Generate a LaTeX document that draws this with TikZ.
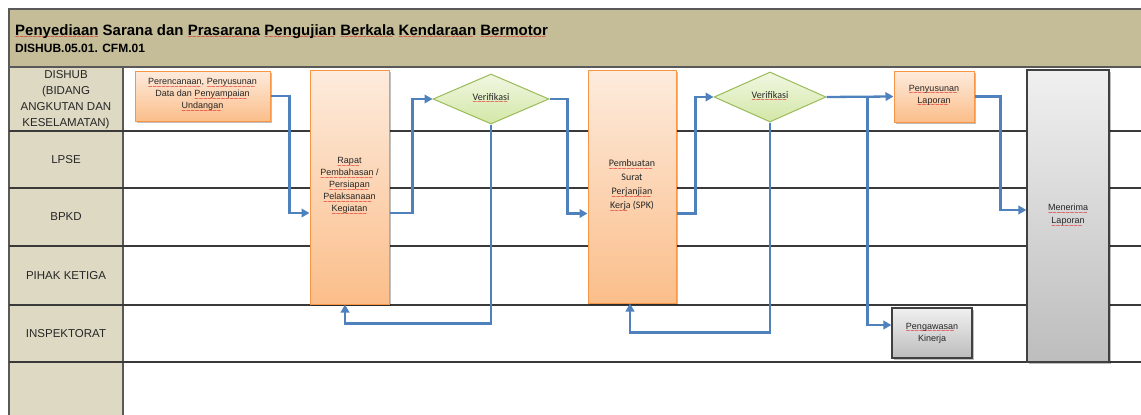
\documentclass[tikz,border=0pt]{standalone}
\usepackage{fontspec}
\setmainfont{Liberation Sans}
\newfontfamily\calib{Carlito}
\newfontfamily\wavefont{Liberation Sans}
\usetikzlibrary{shapes.geometric,arrows.meta,shadows}
\definecolor{hdrfill}{HTML}{C4BD97}
\definecolor{lanefill}{HTML}{DDD9C3}
\definecolor{frame}{HTML}{595959}
\definecolor{laneln}{HTML}{3A3A3A}
\definecolor{orangeb}{HTML}{F79646}
\definecolor{orangetop}{HTML}{FDEBDD}
\definecolor{orangebot}{HTML}{FBBE8A}
\definecolor{greenb}{HTML}{9BBB59}
\definecolor{greentop}{HTML}{F1F7E2}
\definecolor{greenbot}{HTML}{D3E7A6}
\definecolor{graytop}{HTML}{F0F0F0}
\definecolor{graybot}{HTML}{BDBDBD}
\definecolor{grayb}{HTML}{404040}
\definecolor{flowc}{HTML}{4F81BD}
\definecolor{textc}{HTML}{262626}
\definecolor{spell}{HTML}{E01010}
\newcommand\sq[1]{\setbox0\hbox{#1}\rlap{\textcolor{spell}{\leaders\hbox{\lower4.6pt\hbox{\wavefont\fontsize{7.5}{7.5}\selectfont\mdseries\char"7E}}\hskip\wd0\relax}}\box0\relax}
\begin{document}
\begin{tikzpicture}[x=1pt,y=-1pt,
  shadowed/.style={drop shadow={shadow xshift=1.5pt,shadow yshift=-1.5pt,opacity=0.25,fill=black}},
  obox/.style={shadowed,draw=orangeb,line width=1pt,top color=orangetop,bottom color=orangebot,
    align=center,inner sep=1pt,text=textc,font=\fontsize{9}{12}\selectfont},
  gbox/.style={shadowed,draw=grayb,line width=1.2pt,top color=graytop,bottom color=graybot,
    align=center,inner sep=1pt,text=textc,font=\fontsize{9}{12}\selectfont},
  dec/.style={diamond,aspect=2.3,draw=greenb,line width=1pt,top color=greentop,bottom color=greenbot,
    inner sep=0pt,minimum width=116pt,minimum height=50pt,text=textc,font=\fontsize{9}{11}\selectfont},
  lanelabel/.style={align=center,text=textc,font=\fontsize{11.5}{16}\selectfont,inner sep=0pt},
  flow/.style={draw=flowc,line width=2.3pt,-{Triangle[length=8pt,width=8.5pt]}}]
\useasboundingbox (0,0) rectangle (1141,415);
\fill[white] (0,0) rectangle (1141,415);
\begin{scope}
\clip (0,0) rectangle (1141,415);
% header
\draw[fill=hdrfill,draw=frame,line width=1.8pt] (9,9) rectangle (1160,67);
% lane label column
\draw[fill=lanefill,draw=frame,line width=1.4pt] (9,67) rectangle (123,430);
\foreach \yy in {131,188,246,305,362} \draw[laneln,line width=1.3pt] (9,\yy) -- (1150,\yy);
\end{scope}
\node[anchor=base west,inner sep=0pt,text=black,font=\fontsize{15}{18}\selectfont\bfseries] (title) at (15,35)
  {\sq{Penyediaan} Sarana dan \sq{Prasarana} \sq{Pengujian} \sq{Berkala} \sq{Kendaraan} \sq{Bermotor}};
\node[anchor=base west,inner sep=0pt,text=black,font=\fontsize{12}{14}\selectfont\bfseries] (code) at (15,52)
  {DISHUB.05.01. CFM.01};
% lane labels
\node[lanelabel] (l1) at (66,100) {DISHUB\\(BIDANG\\ANGKUTAN DAN\\KESELAMATAN)};
\node[lanelabel] (l2) at (66,160) {LPSE};
\node[lanelabel] (l3) at (66,217) {BPKD};
\node[lanelabel] (l4) at (66,276) {PIHAK KETIGA};
\node[lanelabel] (l5) at (66,334) {INSPEKTORAT};
% process nodes
\node[obox,minimum width=135pt,minimum height=50pt] (b1) at (202.5,96)
  {\sq{Perencanaan,} \sq{Penyusunan}\\Data dan \sq{Penyampaian}\\\sq{Undangan}};
\node[obox,minimum width=79pt,minimum height=234pt] (b2) at (349.5,187)
  {\sq{Rapat}\\\sq{Pembahasan} /\\\sq{Persiapan}\\\sq{Pelaksanaan}\\\sq{Kegiatan}};
\node[dec] (d1) at (491,99) {\calib\fontsize{10}{12}\selectfont\sq{Verifikasi}};
\node[obox,minimum width=88pt,minimum height=233pt,font=\calib\fontsize{10}{14}\selectfont] (b3) at (632,186.5)
  {\sq{Pembuatan}\\Surat\\\sq{Perjanjian}\\\sq{Kerja} (SPK)};
\node[dec,minimum width=112pt] (d2) at (770,97) {\calib\fontsize{10}{12}\selectfont\sq{Verifikasi}};
\node[obox,minimum width=80pt,minimum height=51pt] (b4) at (934,96.5) {\sq{Penyusunan}\\\sq{Laporan}};
\node[gbox,minimum width=82pt,minimum height=292pt,font=\fontsize{9}{13}\selectfont] (b5) at (1068,216) {\sq{Menerima}\\\sq{Laporan}};
\node[gbox,minimum width=80pt,minimum height=50pt,font=\fontsize{9}{11}\selectfont] (b6) at (932,333) {\sq{Pengawasan}\\Kinerja};
% connectors
\draw[flow] (b1.east) -- ++(19,0) |- ([yshift=-26pt]b2.west);
\draw[flow] ([yshift=-26pt]b2.east) -- ++(23,0) |- (d1.west);
\draw[flow] (d1.east) -- ++(18,0) |- ([yshift=-27pt]b3.west);
\draw[flow] (d1.south) -- ++(0,199) -| ([xshift=-4.5pt]b2.south);
\draw[flow] ([yshift=-27pt]b3.east) -- ++(19,0) |- (d2.west);
\draw[flow] (d2.east) -- (b4.west);
\path (d2.east) -- ++(41,0) coordinate (j);
\draw[flow] (j) |- ([yshift=8pt]b6.west);
\draw[flow] (d2.south) -- ++(0,210) -| ([xshift=-2pt]b3.south);
\draw[flow] (b4.east) -- ++(26,0) |- ([yshift=6pt]b5.west);
\end{tikzpicture}
\end{document}
